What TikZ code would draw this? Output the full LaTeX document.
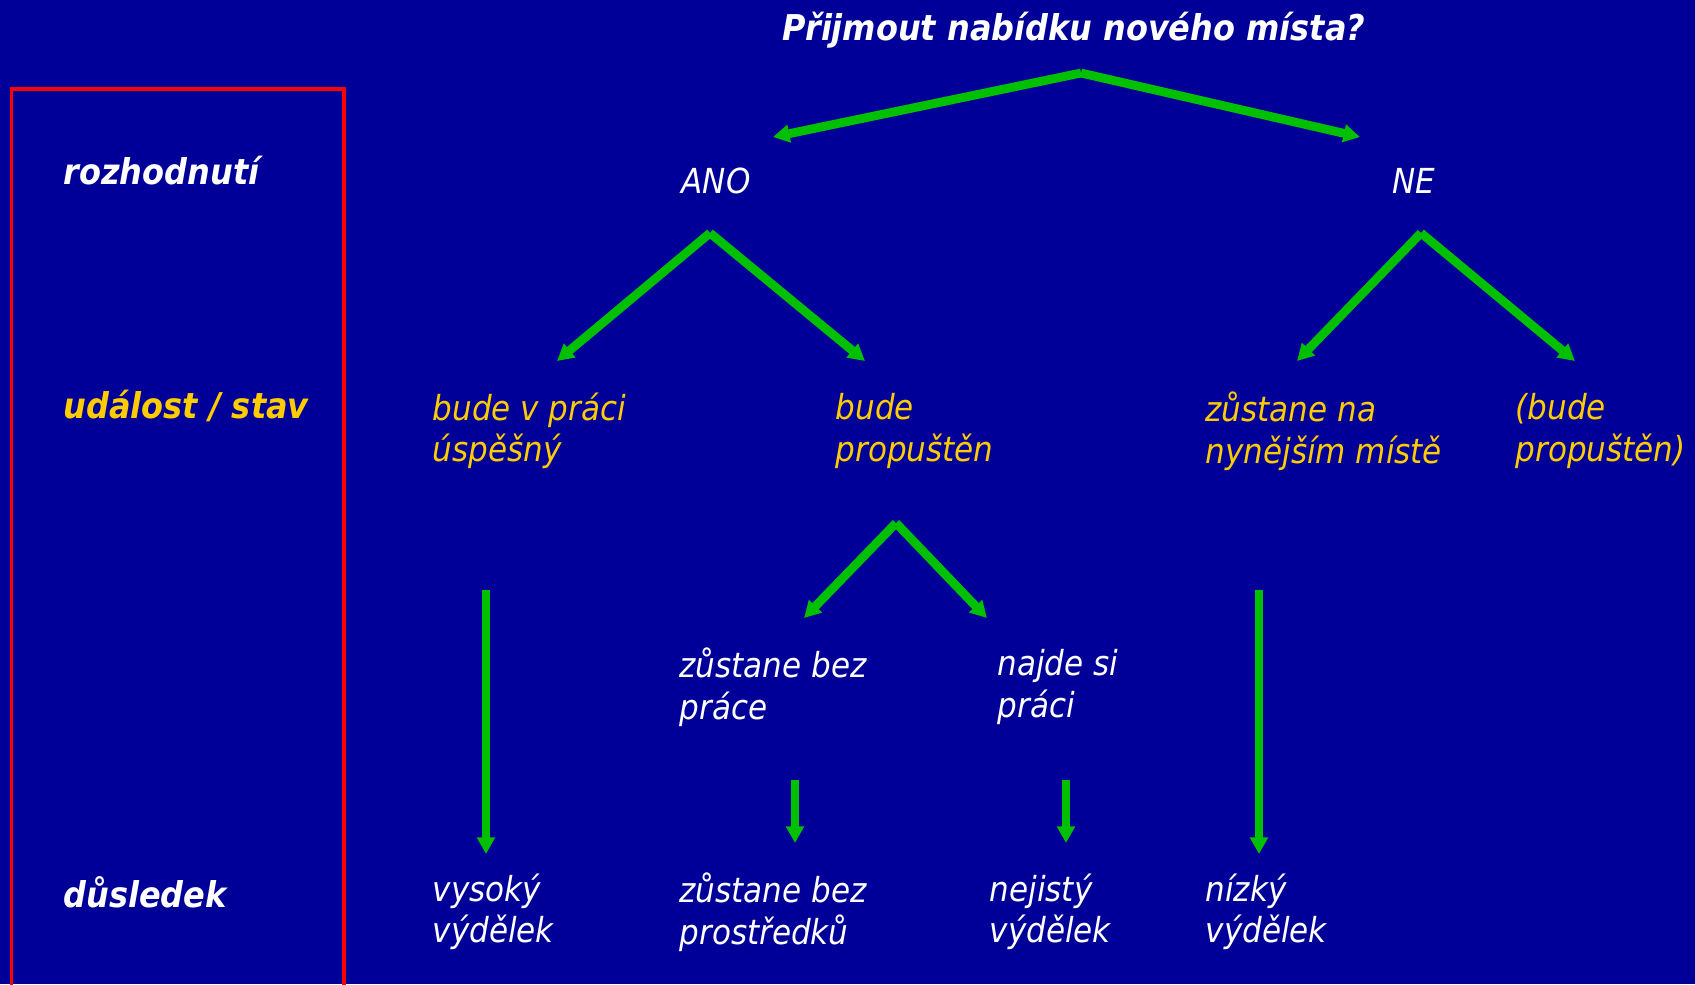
\documentclass[tikz,border=0pt]{standalone}
\usepackage{fontspec}
\setmainfont{DejaVu Sans Condensed}
\usetikzlibrary{arrows.meta}
\definecolor{bgblue}{RGB}{0,0,153}
\definecolor{arrgreen}{RGB}{0,192,0}
\definecolor{txtyellow}{RGB}{255,204,0}
\tikzset{
  lbl/.style={anchor=west, align=left, inner sep=0pt, font=\fontsize{9.8pt}{11.8pt}\selectfont\itshape},
  wlbl/.style={lbl, text=white},
  ylbl/.style={lbl, text=txtyellow},
  head/.style={anchor=west, inner sep=0pt, font=\fontsize{10.1pt}{12pt}\selectfont\bfseries\itshape},
  garrow/.style={draw=arrgreen, line width=2.5pt, -{Triangle[width=4.9pt, length=4.7pt]}},
}
\begin{document}
\begin{tikzpicture}[x=0.01cm, y=-0.01cm]
\useasboundingbox (0,0) rectangle (1695,984);
\fill[bgblue] (0,0) rectangle (1695,984);
\draw[red, line width=1pt] (11.5,995) |- (344,89) -- (344,995);

% titles and labels
\node[head, text=white, anchor=center] (title) at (1074,30) {Přijmout nabídku nového místa?};
\node[head, text=white] (rozh) at (63,171) {rozhodnutí};
\node[head, text=txtyellow] (udal) at (63,406) {událost / stav};
\node[head, text=white] (dusl) at (63,892) {důsledek};

\node[wlbl, anchor=center] (ano) at (716,181) {ANO};
\node[wlbl, anchor=center] (ne) at (1414,181) {NE};

\node[ylbl] (uspesny) at (432,431) {bude v práci\\úspěšný};
\node[ylbl] (propusten) at (835,431) {bude\\propuštěn};
\node[ylbl] (zustane) at (1205,431) {zůstane na\\nynějším místě};
\node[ylbl] (propusten2) at (1515,431) {(bude\\propuštěn)};

\node[wlbl] (bezprace) at (679,687) {zůstane bez\\práce};
\node[wlbl] (najde) at (997,687) {najde si\\práci};

\node[wlbl] (vysoky) at (432,912) {vysoký\\výdělek};
\node[wlbl] (bezprostr) at (679,912) {zůstane bez\\prostředků};
\node[wlbl] (nejisty) at (989,912) {nejistý\\výdělek};
\node[wlbl] (nizky) at (1205,912) {nízký\\výdělek};

% connector coordinates
\coordinate (a0) at (1081,73);
\coordinate (a0l) at (773,137);
\coordinate (a0r) at (1360,137);
\coordinate (a1) at (710,233);
\coordinate (a1l) at (557,361);
\coordinate (a1r) at (865,361);
\coordinate (a2) at (1421,233);
\coordinate (a2l) at (1297,361);
\coordinate (a2r) at (1575,361);
\coordinate (a3) at (896,523);
\coordinate (a3l) at (804,618);
\coordinate (a3r) at (987,618);
\coordinate (v1s) at (486,590);
\coordinate (v1e) at (486,854);
\coordinate (v2s) at (1259,590);
\coordinate (v2e) at (1259,854);
\coordinate (s1s) at (795,780);
\coordinate (s1e) at (795,843);
\coordinate (s2s) at (1066,780);
\coordinate (s2e) at (1066,843);

\foreach \s/\e in {a0/a0l, a0/a0r, a1/a1l, a1/a1r, a2/a2l, a2/a2r, a3/a3l, a3/a3r, v1s/v1e, v2s/v2e, s1s/s1e, s2s/s2e}
  \draw[garrow] (\s) -- (\e);
\end{tikzpicture}
\end{document}
